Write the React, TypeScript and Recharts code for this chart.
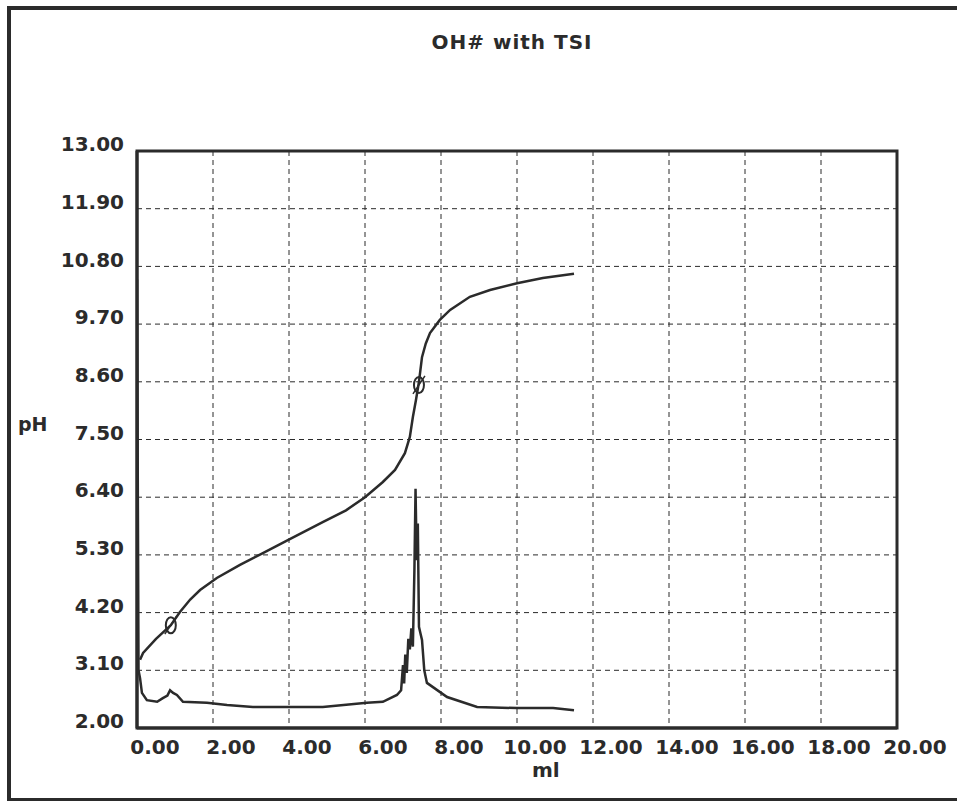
import { LineChart, Line, XAxis, YAxis, CartesianGrid, ReferenceArea, Scatter } from 'recharts'

// titration curve (ml, pH)
const phMl = [0.08, 0.16, 0.5, 0.89, 1.13, 1.4, 1.66, 2.1, 2.71, 3.3, 3.97, 4.9, 5.5, 6.0, 6.47, 6.79, 7.05, 7.18, 7.26, 7.34, 7.42, 7.5, 7.6, 7.71, 7.97, 8.24, 8.76, 9.29, 10.0, 10.68, 11.5]
const phValues = [3.3, 3.43, 3.7, 3.96, 4.21, 4.45, 4.63, 4.86, 5.11, 5.33, 5.58, 5.93, 6.15, 6.4, 6.69, 6.92, 7.24, 7.55, 7.93, 8.25, 8.6, 9.07, 9.33, 9.53, 9.78, 9.97, 10.22, 10.35, 10.48, 10.58, 10.66]

// first derivative trace
const derivMl = [0.0, 0.04, 0.08, 0.13, 0.26, 0.53, 0.68, 0.8, 0.87, 0.95, 1.05, 1.21, 1.84, 2.37, 3.05, 4.89, 6.05, 6.47, 6.84, 6.95, 7.0, 7.03, 7.06, 7.1, 7.14, 7.18, 7.22, 7.26, 7.3, 7.33, 7.36, 7.39, 7.42, 7.46, 7.5, 7.56, 7.63, 8.16, 8.95, 10.0, 10.95, 11.5]
const derivValues = [10.55, 3.1, 2.95, 2.67, 2.53, 2.5, 2.57, 2.62, 2.72, 2.67, 2.63, 2.5, 2.48, 2.44, 2.4, 2.4, 2.48, 2.5, 2.63, 2.72, 3.2, 2.85, 3.4, 3.05, 3.7, 3.5, 3.9, 3.55, 5.0, 6.56, 5.2, 5.9, 3.93, 3.8, 3.68, 3.1, 2.86, 2.59, 2.4, 2.38, 2.38, 2.34]

// equivalence markers
const markerMl = [0.89, 7.42]
const markerPh = [3.96, 8.54]

const xTicks = [0, 2, 4, 6, 8, 10, 12, 14, 16, 18, 20]
const yTicks = [2.0, 3.1, 4.2, 5.3, 6.4, 7.5, 8.6, 9.7, 10.8, 11.9, 13.0]

const phData = phMl.map((ml, i) => ({ ml, ph: phValues[i] }))
const derivData = derivMl.map((ml, i) => ({ ml, d: derivValues[i] }))
const markerData = markerMl.map((ml, i) => ({ ml, ph: markerPh[i] }))

const INK = '#2b2b2b'
const FONT = '"DejaVu Sans", Verdana, sans-serif'

function XTick({ x, y, payload }: any) {
  return (
    <text x={x + 18} y={y} dy="0.71em" textAnchor="middle" fontFamily={FONT} fontSize={20} fontWeight="bold" fill={INK}>
      {Number(payload.value).toFixed(2)}
    </text>
  )
}

function YTick({ x, y, payload }: any) {
  return (
    <text x={x} y={y - 7} dy="0.355em" textAnchor="end" fontFamily={FONT} fontSize={20} fontWeight="bold" fill={INK}>
      {Number(payload.value).toFixed(2)}
    </text>
  )
}

// slashed-oval marker drawn at the equivalence points
function Marker({ cx, cy }: any) {
  return (
    <g>
      <ellipse cx={cx} cy={cy} rx={5} ry={8} fill="none" stroke={INK} strokeWidth={2} />
      <line x1={cx - 6} y1={cy + 9} x2={cx + 6} y2={cy - 9} stroke={INK} strokeWidth={1.5} />
    </g>
  )
}

export default function App() {
  return (
    <div style={{ position: 'absolute', left: 0, top: 0, width: 957, height: 801, overflow: 'hidden', background: '#fff' }}>
      <div style={{ position: 'absolute', left: 7, top: 6, width: 1000, height: 788, border: `4px solid ${INK}` }} />
      <div style={{ position: 'absolute', left: 0, top: 30, width: 1024, textAlign: 'center', fontFamily: FONT, fontWeight: 'bold', fontSize: 20, letterSpacing: 1, color: INK }}>
        OH# with TSI
      </div>
      <div style={{ position: 'absolute', left: 18, top: 413, fontFamily: FONT, fontWeight: 'bold', fontSize: 19, color: INK }}>pH</div>
      <div style={{ position: 'absolute', left: 532, top: 758, fontFamily: FONT, fontWeight: 'bold', fontSize: 20, color: INK }}>ml</div>
      <div style={{ position: 'absolute', left: 0, top: 0 }}>
        <LineChart width={957} height={801} margin={{ top: 151, right: 60, bottom: 13, left: 57 }}>
          <CartesianGrid stroke={INK} strokeDasharray="5 4" strokeWidth={1} />
          <XAxis
            dataKey="ml"
            type="number"
            domain={[0, 20]}
            ticks={xTicks}
            allowDataOverflow
            height={60}
            tickSize={0}
            tickMargin={12}
            tick={<XTick />}
            axisLine={{ stroke: INK, strokeWidth: 3 }}
          />
          <YAxis
            type="number"
            domain={[2, 13]}
            ticks={yTicks}
            allowDataOverflow
            width={80}
            tickSize={0}
            tickMargin={13}
            tick={<YTick />}
            axisLine={{ stroke: INK, strokeWidth: 3 }}
          />
          <ReferenceArea x1={0} x2={20} y1={2} y2={13} fill="none" stroke={INK} strokeWidth={3} />
          <Line data={phData} dataKey="ph" type="linear" stroke={INK} strokeWidth={2.5} dot={false} isAnimationActive={false} />
          <Line data={derivData} dataKey="d" type="linear" stroke={INK} strokeWidth={2.5} dot={false} isAnimationActive={false} />
          <Scatter data={markerData} dataKey="ph" shape={<Marker />} isAnimationActive={false} />
        </LineChart>
      </div>
    </div>
  )
}
